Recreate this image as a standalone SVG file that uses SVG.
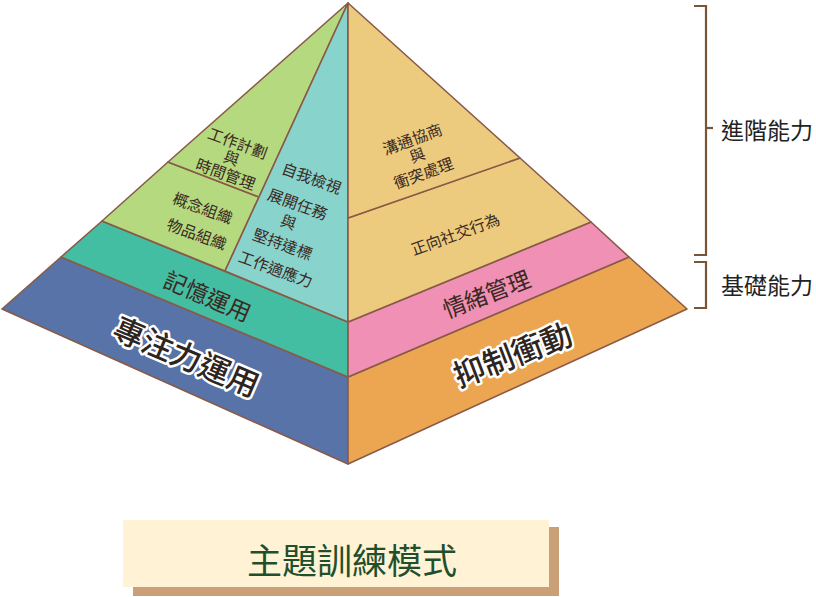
<svg xmlns="http://www.w3.org/2000/svg" width="816" height="597" viewBox="0 0 816 597">
<style>
.face{stroke:#8a5a48;stroke-width:1.6;stroke-linejoin:round}
.t{font-family:"Noto Sans CJK TC","Noto Sans CJK SC",sans-serif;fill:#3a2a22;text-anchor:middle;dominant-baseline:central}
.s{font-size:15.5px}
.m{font-size:23px}
.b{font-size:31px;font-weight:500;fill:#2e2420;stroke:#ffffff;stroke-width:5px;paint-order:stroke;stroke-linejoin:round}
.br{fill:none;stroke:#7a5535;stroke-width:2.2}
.lab{font-family:"Noto Sans CJK TC","Noto Sans CJK SC",sans-serif;font-size:23px;fill:#222;dominant-baseline:central}
</style>
<rect width="816" height="597" fill="#ffffff"/>
<g id="attention">
<polygon class="face" fill="#5773a7" points="2,309 348,464 348,377 61,257"/>
<text class="t b" transform="translate(187,355) rotate(23)">專注力運用</text>
</g>
<g id="memory">
<polygon class="face" fill="#44bea3" points="61,257 348,377 348,322 102,221"/>
<text class="t m" transform="translate(208,295) rotate(23)">記憶運用</text>
</g>
<g id="organize">
<polygon class="face" fill="#b5d97f" points="168,162 259,197 225,271 102,221"/>
<text class="t s" transform="translate(203,207) rotate(20)">概念組織</text>
<text class="t s" transform="translate(197,233) rotate(20)">物品組織</text>
</g>
<g id="planning">
<polygon class="face" fill="#b5d97f" points="348,3 168,162 259,197"/>
<text class="t s" transform="translate(238,142) rotate(20)">工作計劃</text>
<text class="t s" transform="translate(232,157) rotate(20)">與</text>
<text class="t s" transform="translate(226,173) rotate(20)">時間管理</text>
</g>
<g id="selfmonitor">
<polygon class="face" fill="#89d3cd" points="348,3 225,271 348,322"/>
<text class="t s" transform="translate(312,177) rotate(20)">自我檢視</text>
<text class="t s" transform="translate(298,203) rotate(20)">展開任務</text>
<text class="t s" transform="translate(289,221) rotate(20)">與</text>
<text class="t s" transform="translate(283,243) rotate(20)">堅持達標</text>
<text class="t s" transform="translate(276,268) rotate(20)">工作適應力</text>
</g>
<g id="impulse">
<polygon class="face" fill="#eca652" points="348,464 687,309 629,257 348,377"/>
<text class="t b" transform="translate(512,353) rotate(-21)">抑制衝動</text>
</g>
<g id="emotion">
<polygon class="face" fill="#f090b5" points="348,377 629,257 591,222 348,322"/>
<text class="t m" transform="translate(486,293) rotate(-21)">情緒管理</text>
</g>
<g id="prosocial">
<polygon class="face" fill="#edcb7e" points="348,322 591,222 520,158 348,218"/>
<text class="t s" transform="translate(455,233) rotate(-20)">正向社交行為</text>
</g>
<g id="negotiation">
<polygon class="face" fill="#edcb7e" points="348,3 520,158 348,218"/>
<text class="t s" transform="translate(412,138) rotate(-20)">溝通協商</text>
<text class="t s" transform="translate(417,154) rotate(-20)">與</text>
<text class="t s" transform="translate(423,172) rotate(-20)">衝突處理</text>
</g>
<g id="connectors">
<polyline class="br" points="694,6 706,6 706,255 694,255"/>
<line class="br" x1="706" y1="128" x2="713" y2="128"/>
<polyline class="br" points="694,262 706,262 706,308 694,308"/>
</g>
<g id="advanced">
<text class="lab" x="721" y="129">進階能力</text>
</g>
<g id="basic">
<text class="lab" x="721" y="284">基礎能力</text>
</g>
<g id="title">
<rect x="133" y="527" width="426" height="69" fill="#c9a077"/>
<rect x="123" y="520" width="426" height="67" fill="#fff2d5"/>
<text x="352" y="558" font-family="Noto Sans CJK TC, Noto Sans CJK SC, sans-serif" font-size="35" fill="#1f4f2c" text-anchor="middle" dominant-baseline="central">主題訓練模式</text>
</g>
</svg>
